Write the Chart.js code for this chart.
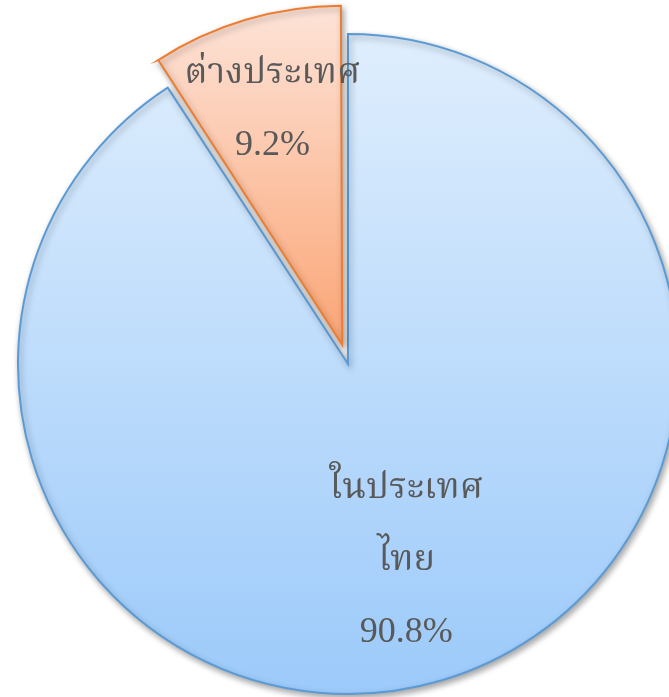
<!DOCTYPE html>
<html>
<head>
<meta charset="utf-8">
<script src="https://cdn.jsdelivr.net/npm/chart.js@4/dist/chart.umd.min.js"></script>
<style>
  html, body { margin: 0; padding: 0; background: #ffffff; }
  #wrap { width: 669px; height: 697px; position: relative; }
</style>
</head>
<body>
<div id="wrap"><canvas id="c"></canvas></div>
<script>
const categories = ['ในประเทศไทย', 'ต่างประเทศ'];
const labelLines = [['ในประเทศ', 'ไทย'], ['ต่างประเทศ']];
const values = [90.8, 9.2];
const explodeOffsets = [0, 80];

const FONT = "'Liberation Serif', 'Noto Serif Thai', 'Noto Sans Thai', serif";

function sliceFill(ctx) {
  const ch = ctx.chart;
  const i = ctx.dataIndex;
  if (!ch.chartArea) return i === 0 ? '#c4e0fc' : '#fcc8ad';
  let g;
  if (i === 0) {
    g = ch.ctx.createLinearGradient(0, 34, 0, 694);
    g.addColorStop(0, '#dfeefd');
    g.addColorStop(1, '#9ccafa');
  } else {
    g = ch.ctx.createLinearGradient(0, 5, 0, 337);
    g.addColorStop(0, '#fde7de');
    g.addColorStop(1, '#fbaa7d');
  }
  return g;
}

// Chart.js ArcElement moves an arc by offset/4 * (2 - sin(circumference))
function effectiveOffset(arc, off) {
  const circ = arc.endAngle - arc.startAngle;
  const fix = 1 - Math.sin(Math.min(Math.PI, circ));
  return off / 4 * (1 + fix);
}

const shadowPlugin = {
  id: 'shadow',
  beforeDatasetDraw(chart) {
    const c = chart.ctx;
    c.save();
    c.shadowColor = 'rgba(0,0,0,0.35)';
    c.shadowBlur = 6;
    c.shadowOffsetX = 2;
    c.shadowOffsetY = 3;
  },
  afterDatasetDraw(chart) {
    chart.ctx.restore();
  }
};

const labelPlugin = {
  id: 'sliceLabels',
  afterDatasetsDraw(chart) {
    const meta = chart.getDatasetMeta(0);
    const c = chart.ctx;
    const fracs = [0.62, 0.715];
    const lineH = 72;
    c.save();
    c.fillStyle = '#595959';
    c.textAlign = 'center';
    c.textBaseline = 'middle';
    c.font = '36px ' + FONT;
    meta.data.forEach((arc, i) => {
      const p = arc.getProps(['x', 'y', 'startAngle', 'endAngle', 'outerRadius'], true);
      const mid = (p.startAngle + p.endAngle) / 2;
      const off = effectiveOffset(p, explodeOffsets[i]);
      const cx = p.x + Math.cos(mid) * off;
      const cy = p.y + Math.sin(mid) * off;
      const px = cx + Math.cos(mid) * p.outerRadius * fracs[i];
      const py = cy + Math.sin(mid) * p.outerRadius * fracs[i];
      const lines = labelLines[i].concat([values[i].toFixed(1) + '%']);
      const n = lines.length;
      lines.forEach((t, k) => {
        const y = py + (k - (n - 1) / 2) * lineH;
        c.fillText(t, px, y);
      });
    });
    c.restore();
  }
};

new Chart(document.getElementById('c'), {
  type: 'pie',
  data: {
    labels: categories,
    datasets: [{
      data: values,
      backgroundColor: sliceFill,
      borderColor: ['#5b9bd5', '#ed7d31'],
      borderWidth: 2,
      borderJoinStyle: 'miter',
      offset: explodeOffsets
    }]
  },
  options: {
    responsive: true,
    maintainAspectRatio: false,
    animation: false,
    radius: 330,
    layout: { padding: { left: 27, right: 0, top: 31, bottom: 0 } },
    plugins: {
      legend: { display: false },
      tooltip: { enabled: false }
    }
  },
  plugins: [shadowPlugin, labelPlugin]
});
</script>
</body>
</html>
